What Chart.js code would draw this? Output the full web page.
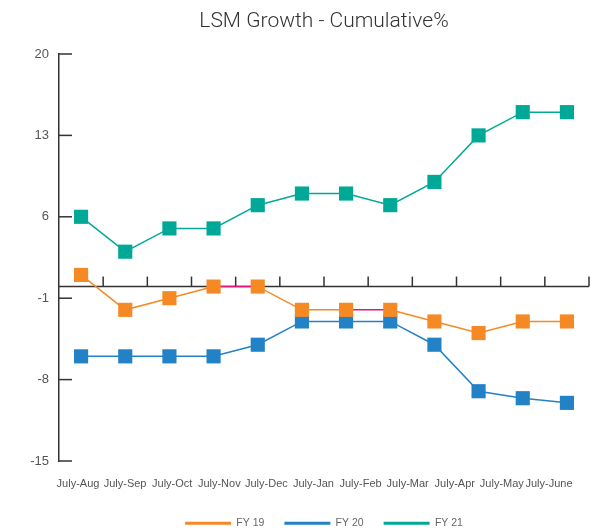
<!DOCTYPE html>
<html>
<head>
<meta charset="utf-8">
<script src="https://cdn.jsdelivr.net/npm/chart.js@4"></script>
<style>
  html, body { margin: 0; padding: 0; background: #fff; }
  #wrap { width: 591px; height: 531px; }
</style>
</head>
<body>
<div id="wrap"><canvas id="chart"></canvas></div>
<script>
// cumulative periods (12 points), only 11 labels are printed under the axis
const periods = ['July', 'July-Aug', 'July-Sep', 'July-Oct', 'July-Nov', 'July-Dec',
  'July-Jan', 'July-Feb', 'July-Mar', 'July-Apr', 'July-May', 'July-June'];
const tickLabels = ['July-Aug', 'July-Sep', 'July-Oct', 'July-Nov', 'July-Dec',
  'July-Jan', 'July-Feb', 'July-Mar', 'July-Apr', 'July-May', 'July-June'];

const fy19 = [1, -2, -1, 0, 0, -2, -2, -2, -3, -4, -3, -3];
const fy20 = [-6, -6, -6, -6, -5, -3, -3, -3, -5, -9, -9.6, -10];
const fy21 = [6, 3, 5, 5, 7, 8, 8, 7, 9, 13, 15, 15];

const yTicks = [-15, -8, -1, 6, 13, 20];

const colors = {
  fy19: '#F58A25',
  fy20: '#2381C6',
  fy21: '#00A997'
};
const pink = '#E0167F';

// segments of FY 19 that show up pink in the original
const pinkSegments = [3, 6];

const FONT = "'Liberation Sans', Arial, sans-serif";

// draw the zero line with its small ticks and the inward ticks on the y axis
const axisMarks = {
  id: 'axisMarks',
  beforeDatasetsDraw(chart) {
    const { ctx, chartArea, scales } = chart;
    const y = scales.y;
    const x = scales.x;
    ctx.save();
    ctx.strokeStyle = '#333';
    ctx.lineWidth = 1.5;
    yTicks.forEach(v => {
      const py = y.getPixelForValue(v);
      ctx.beginPath();
      ctx.moveTo(chartArea.left, py);
      ctx.lineTo(chartArea.left + 13, py);
      ctx.stroke();
    });
    const y0 = y.getPixelForValue(0);
    ctx.beginPath();
    ctx.moveTo(chartArea.left, y0);
    ctx.lineTo(chartArea.right, y0);
    ctx.stroke();
    const step = (chartArea.right - chartArea.left) / periods.length;
    for (let i = 1; i <= periods.length; i++) {
      const px = x.getPixelForValue(i - 1) + step / 2;
      ctx.beginPath();
      ctx.moveTo(px, y0);
      ctx.lineTo(px, y0 - 10);
      ctx.stroke();
    }
    ctx.restore();
  }
};

const legendHeight = {
  id: 'legendHeight',
  beforeInit(chart) {
    const lg = chart.legend;
    if (!lg) return;
    const fit = lg.fit;
    lg.fit = function() {
      fit.call(this);
      this.height = 33;
    };
  }
};

function series(label, data, color, segColor) {
  return {
    label: label,
    data: data,
    borderColor: color,
    backgroundColor: color,
    borderWidth: 1.5,
    pointStyle: 'rect',
    pointRadius: 10,
    pointHoverRadius: 10,
    pointBorderWidth: 0,
    tension: 0,
    segment: segColor ? { borderColor: segColor } : undefined
  };
}

new Chart(document.getElementById('chart'), {
  type: 'line',
  data: {
    labels: periods,
    datasets: [
      series('FY 19', fy19, colors.fy19, c => pinkSegments.includes(c.p0DataIndex) ? pink : undefined),
      series('FY 20', fy20, colors.fy20),
      series('FY 21', fy21, colors.fy21)
    ]
  },
  options: {
    responsive: true,
    maintainAspectRatio: false,
    animation: false,
    layout: { autoPadding: false, padding: { left: 0, right: 2, top: 0, bottom: 0 } },
    plugins: {
      title: {
        display: true,
        text: 'LSM Growth - Cumulative%',
        fullSize: false,
        color: '#333',
        font: { family: "Roboto, " + FONT, size: 21, weight: 300, lineHeight: 1.2 },
        padding: { top: 9, bottom: 19.8 }
      },
      legend: {
        position: 'bottom',
        fullSize: false,
        labels: {
          boxWidth: 46,
          boxHeight: 3,
          padding: 20,
          color: '#666',
          font: { family: FONT, size: 10.5 },
          generateLabels(chart) {
            return chart.data.datasets.map((ds, i) => ({
              text: ds.label,
              fillStyle: ds.borderColor,
              strokeStyle: ds.borderColor,
              lineWidth: 0,
              fontColor: '#666',
              datasetIndex: i
            }));
          }
        }
      },
      tooltip: { enabled: false }
    },
    scales: {
      x: {
        type: 'category',
        display: false,
        offset: true
      },
      xl: {
        type: 'linear',
        position: 'bottom',
        min: -0.403,
        max: 10.85,
        grid: { display: false, drawTicks: false },
        border: { display: false },
        afterBuildTicks(scale) {
          scale.ticks = tickLabels.map((_, i) => ({ value: i }));
        },
        afterFit(scale) {
          scale.height = 37;
          scale.paddingLeft = 0;
          scale.paddingRight = 0;
        },
        ticks: {
          autoSkip: false,
          maxRotation: 0,
          padding: 16,
          color: '#555',
          font: { family: FONT, size: 11 },
          callback: v => tickLabels[v]
        }
      },
      y: {
        min: -15,
        max: 20,
        afterBuildTicks(scale) {
          scale.ticks = yTicks.map(v => ({ value: v }));
        },
        afterFit(scale) {
          scale.width = 59;
        },
        grid: { drawOnChartArea: false, drawTicks: false },
        border: { display: true, color: '#333', width: 1.5 },
        ticks: {
          padding: 10,
          color: '#555',
          font: { family: FONT, size: 13 }
        }
      }
    }
  },
  plugins: [legendHeight, axisMarks]
});
</script>
</body>
</html>
